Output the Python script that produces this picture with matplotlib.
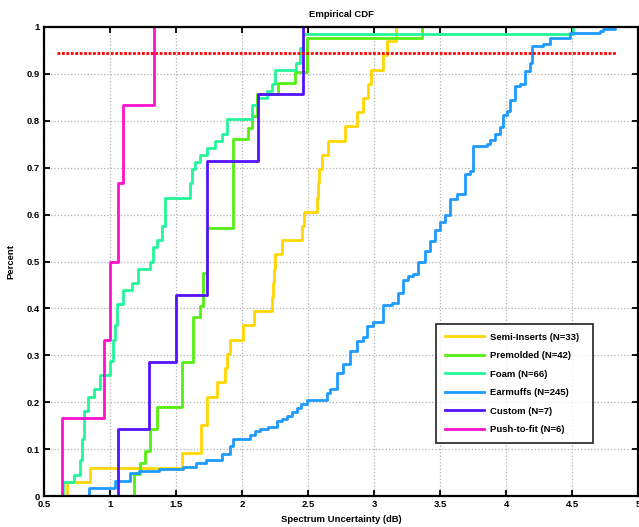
import matplotlib
matplotlib.use("Agg")
import matplotlib.pyplot as plt

plt.rcParams['font.family'] = ['Liberation Sans', 'DejaVu Sans']
plt.rcParams['font.weight'] = 'bold'

# ---- data: step positions (x) and cumulative count after each step (y) ----
semi_x = [0.672, 0.848, 1.543, 1.69, 1.732, 1.81, 1.872, 1.886, 1.912, 2.01, 2.09,
          2.225, 2.232, 2.24, 2.25, 2.30, 2.455, 2.472, 2.568, 2.574, 2.58, 2.605,
          2.655, 2.78, 2.87, 2.92, 2.957, 2.975, 3.07, 3.096, 3.165]
semi_y = [1, 2, 3, 5, 7, 8, 9, 10, 11, 12, 13, 14, 15, 16, 17, 18, 19, 20, 21, 22,
          23, 24, 25, 26, 27, 28, 29, 30, 31, 32, 33]
semi_n = 33

pre_x = [1.184, 1.227, 1.265, 1.303, 1.354, 1.543, 1.631, 1.682, 1.707, 1.732,
         1.934, 2.048, 2.073, 2.111, 2.275, 2.40, 2.49, 3.366]
pre_y = [2, 3, 4, 6, 8, 12, 16, 17, 20, 24, 32, 33, 34, 36, 37, 38, 41, 42]
pre_n = 42

foam_x = [0.646, 0.727, 0.773, 0.79, 0.803, 0.836, 0.876, 0.924, 1.0, 1.025, 1.038,
          1.05, 1.101, 1.164, 1.214, 1.303, 1.328, 1.353, 1.391, 1.416, 1.606, 1.618,
          1.644, 1.682, 1.732, 1.795, 1.846, 1.884, 2.073, 2.124, 2.187, 2.225, 2.25,
          2.41, 2.44, 2.46, 4.505]
foam_y = [2, 3, 5, 8, 12, 14, 15, 17, 19, 22, 24, 27, 29, 30, 32, 33, 35, 36, 38,
          42, 44, 46, 47, 48, 49, 50, 51, 53, 55, 56, 57, 58, 60, 61, 63, 65, 66]
foam_n = 66

ear_x = [0.843, 1.036, 1.149, 1.22, 1.37, 1.55, 1.65, 1.73, 1.845, 1.909, 1.934,
         2.06, 2.10, 2.14, 2.20, 2.262, 2.30, 2.338, 2.376, 2.414, 2.45, 2.49, 2.641,
         2.667, 2.717, 2.768, 2.818, 2.869, 2.919, 2.944, 2.995, 3.071, 3.134, 3.184,
         3.222, 3.26, 3.298, 3.336, 3.386, 3.424, 3.462, 3.5, 3.538, 3.576, 3.626,
         3.69, 3.727, 3.752, 3.854, 3.879, 3.917, 3.955, 3.98, 4.006, 4.031, 4.068,
         4.106, 4.144, 4.182, 4.194, 4.283, 4.333, 4.485, 4.712, 4.737, 4.826]
ear_y = [4, 8, 12, 13, 14, 15, 17, 19, 22, 26, 30, 32, 34, 35, 36, 39, 40, 42, 44,
         46, 48, 50, 54, 56, 64, 69, 76, 81, 83, 89, 91, 100, 101, 106, 113, 115,
         116, 122, 128, 133, 139, 143, 147, 155, 158, 168, 170, 183, 184, 186, 189,
         193, 199, 201, 207, 214, 215, 222, 226, 235, 236, 239, 242, 243, 244, 245]
ear_n = 245

cust_x = [1.063, 1.295, 1.498, 1.735, 2.119, 2.465]
cust_y = [1, 2, 3, 5, 6, 7]
cust_n = 7

push_x = [0.64, 0.952, 1.0, 1.06, 1.10, 1.333]
push_y = [1, 2, 3, 4, 5, 6]
push_n = 6

ref_level = 0.945
ref_x = [0.6, 4.83]

labels = ["Semi-Inserts (N=33)", "Premolded (N=42)", "Foam (N=66)",
          "Earmuffs (N=245)", "Custom (N=7)", "Push-to-fit (N=6)"]
colors = ["#FFD700", "#55EE11", "#22F59A", "#1E9BFF", "#5511FF", "#FF11CC"]

series = [(semi_x, semi_y, semi_n), (pre_x, pre_y, pre_n), (foam_x, foam_y, foam_n),
          (ear_x, ear_y, ear_n), (cust_x, cust_y, cust_n), (push_x, push_y, push_n)]

fig = plt.figure(figsize=(6.39, 5.27), dpi=100)
ax = fig.add_axes([44/639, 31/527, 594/639, 469/527])

for (xs, ys, n), lab, col in zip(series, labels, colors):
    sx = [xs[0]] + list(xs)
    sy = [0.0] + [v / n for v in ys]
    ax.step(sx, sy, where='post', color=col, lw=2.0, label=lab)

ax.plot(ref_x, [ref_level, ref_level], color='red', ls=':', lw=2.0, dashes=(1, 0.6))

ax.set_xlim(0.5, 5)
ax.set_ylim(0, 1)
ax.set_xticks([0.5, 1, 1.5, 2, 2.5, 3, 3.5, 4, 4.5, 5])
ax.set_xticklabels(["0.5", "1", "1.5", "2", "2.5", "3", "3.5", "4", "4.5", "5"])
ax.set_yticks([0, 0.1, 0.2, 0.3, 0.4, 0.5, 0.6, 0.7, 0.8, 0.9, 1])
ax.set_yticklabels(["0", "0.1", "0.2", "0.3", "0.4", "0.5", "0.6", "0.7", "0.8", "0.9", "1"])
ax.grid(True, color='#b0b0b0', ls=':', lw=0.9)
ax.tick_params(direction='in', top=True, right=True, length=4, width=1.3,
               labelsize=6.8, pad=3)
for s in ax.spines.values():
    s.set_linewidth(1.6)

ax.set_title("Empirical CDF", fontsize=6.8, fontweight='bold', pad=7)
ax.set_xlabel("Spectrum Uncertainty (dB)", fontsize=6.8, fontweight='bold', labelpad=4)
ax.set_ylabel("Percent", fontsize=6.8, fontweight='bold', labelpad=8)

leg = ax.legend(loc='lower left', bbox_to_anchor=(0.652, 0.104, 0.281, 0.25),
                mode='expand', fontsize=6.8, frameon=True, fancybox=False,
                handlelength=4.2, labelspacing=1.0, borderpad=0.9,
                handletextpad=0.6)
leg.get_frame().set_edgecolor('black')
leg.get_frame().set_linewidth(1.3)
for t in leg.get_texts():
    t.set_fontweight('bold')

fig.savefig("out.png", dpi=100)
